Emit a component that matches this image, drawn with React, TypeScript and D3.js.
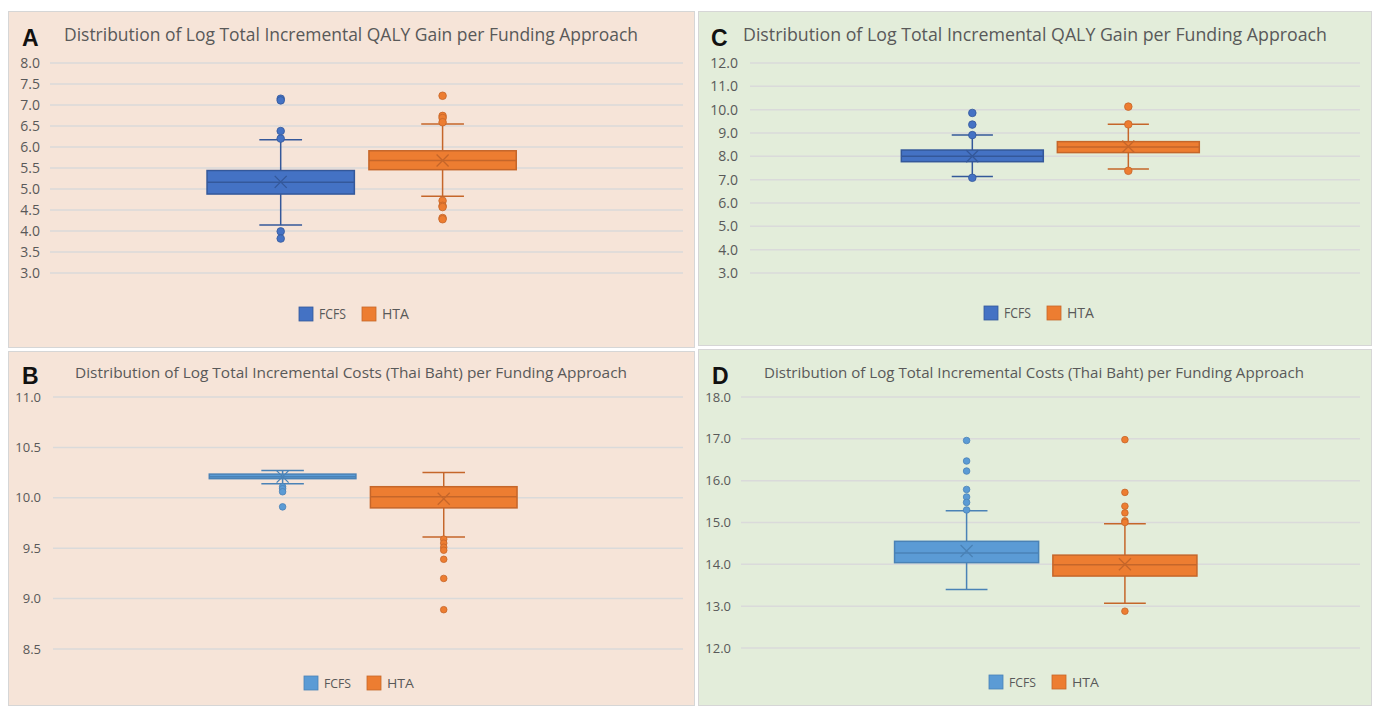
import React from "react";
import * as d3 from "d3";

const seriesNames = ["FCFS", "HTA"];

// Panel A – Log Total Incremental QALY Gain (FCFS, HTA)
const aTicks = [3.0, 3.5, 4.0, 4.5, 5.0, 5.5, 6.0, 6.5, 7.0, 7.5, 8.0];
const aLow = [4.14, 4.83];
const aQ1 = [4.88, 5.46];
const aMedian = [5.16, 5.68];
const aQ3 = [5.44, 5.91];
const aHigh = [6.17, 6.55];
const aMean = [5.17, 5.68];
const aOutliers = [
  [7.15, 7.11, 6.38, 6.2, 3.99, 3.82],
  [7.22, 6.74, 6.69, 6.59, 4.72, 4.6, 4.57, 4.31, 4.28],
];

// Panel C – Log Total Incremental QALY Gain
const cTicks = [3, 4, 5, 6, 7, 8, 9, 10, 11, 12];
const cLow = [7.14, 7.46];
const cQ1 = [7.77, 8.16];
const cMedian = [8.0, 8.4];
const cQ3 = [8.27, 8.63];
const cHigh = [8.91, 9.37];
const cMean = [8.0, 8.42];
const cOutliers = [
  [9.86, 9.36, 8.91, 7.08],
  [10.13, 9.37, 7.38],
];

// Panel B – Log Total Incremental Costs (Thai Baht)
const bTicks = [8.5, 9.0, 9.5, 10.0, 10.5, 11.0];
const bLow = [10.14, 9.61];
const bQ1 = [10.19, 9.9];
const bMedian = [10.21, 10.01];
const bQ3 = [10.235, 10.11];
const bHigh = [10.27, 10.25];
const bMean = [10.21, 9.99];
const bOutliers = [
  [10.11, 10.09, 10.06, 9.91],
  [9.59, 9.55, 9.51, 9.48, 9.39, 9.2, 8.89],
];

// Panel D – Log Total Incremental Costs (Thai Baht)
const dTicks = [12, 13, 14, 15, 16, 17, 18];
const dLow = [13.4, 13.07];
const dQ1 = [14.04, 13.72];
const dMedian = [14.27, 13.99];
const dQ3 = [14.55, 14.22];
const dHigh = [15.28, 14.97];
const dMean = [14.32, 14.0];
const dOutliers = [
  [16.96, 16.47, 16.23, 15.79, 15.61, 15.48, 15.3],
  [16.98, 15.72, 15.39, 15.23, 15.04, 15.0, 12.88],
];

const titleQaly = "Distribution of Log Total Incremental QALY Gain per Funding Approach";
const titleCost = "Distribution of Log Total Incremental Costs (Thai Baht) per Funding Approach";

const PEACH = "#F6E4D8";
const GREEN = "#E3EDDA";
const DARK_BLUE = ["#4472C4", "#34589A"];
const LIGHT_BLUE = ["#5B9BD5", "#4A82B6"];
const ORANGE = ["#ED7D31", "#C5662A"];
const FONT = "'Open Sans', 'Liberation Sans', sans-serif";

type Panel = {
  letter: string;
  x: number; y: number; w: number; h: number;
  bg: string;
  title: string; titleX: number; titleY: number; titleSize: number; titleLen: number;
  letterX: number; letterY: number;
  plotL: number; plotR: number; plotT: number; plotB: number;
  ticks: number[]; tickFmt: (v: number) => string; labelRight: number; labelSize: number;
  low: number[]; q1: number[]; med: number[]; q3: number[]; high: number[]; mean: number[]; out: number[][];
  colors: string[][];
  legX: number; legY: number; legSize: number;
  dotR: number;
};

const fmt1 = d3.format(".1f");

const panels: Panel[] = [
  {
    letter: "A", x: 8, y: 11, w: 686, h: 336, bg: PEACH,
    title: titleQaly, titleX: 64, titleY: 41, titleSize: 18, titleLen: 574,
    letterX: 22, letterY: 46,
    plotL: 50, plotR: 683, plotT: 63, plotB: 273,
    ticks: aTicks, tickFmt: fmt1, labelRight: 40, labelSize: 14,
    low: aLow, q1: aQ1, med: aMedian, q3: aQ3, high: aHigh, mean: aMean, out: aOutliers,
    colors: [DARK_BLUE, ORANGE], legX: 299, legY: 314, legSize: 14, dotR: 3.8,
  },
  {
    letter: "C", x: 698, y: 11, w: 673, h: 334, bg: GREEN,
    title: titleQaly, titleX: 743, titleY: 41, titleSize: 18, titleLen: 584,
    letterX: 711, letterY: 46,
    plotL: 750, plotR: 1360, plotT: 63, plotB: 273,
    ticks: cTicks, tickFmt: fmt1, labelRight: 738, labelSize: 14,
    low: cLow, q1: cQ1, med: cMedian, q3: cQ3, high: cHigh, mean: cMean, out: cOutliers,
    colors: [DARK_BLUE, ORANGE], legX: 984, legY: 313, legSize: 14, dotR: 3.8,
  },
  {
    letter: "B", x: 8, y: 351, w: 686, h: 354, bg: PEACH,
    title: titleCost, titleX: 75, titleY: 378, titleSize: 15, titleLen: 552,
    letterX: 22, letterY: 384,
    plotL: 53, plotR: 683, plotT: 397, plotB: 649,
    ticks: bTicks, tickFmt: fmt1, labelRight: 41, labelSize: 13,
    low: bLow, q1: bQ1, med: bMedian, q3: bQ3, high: bHigh, mean: bMean, out: bOutliers,
    colors: [LIGHT_BLUE, ORANGE], legX: 304, legY: 683, legSize: 13, dotR: 3.3,
  },
  {
    letter: "D", x: 698, y: 349, w: 673, h: 356, bg: GREEN,
    title: titleCost, titleX: 764, titleY: 378, titleSize: 15, titleLen: 540,
    letterX: 712, letterY: 384,
    plotL: 741, plotR: 1360, plotT: 397, plotB: 648,
    ticks: dTicks, tickFmt: fmt1, labelRight: 731, labelSize: 13,
    low: dLow, q1: dQ1, med: dMedian, q3: dQ3, high: dHigh, mean: dMean, out: dOutliers,
    colors: [LIGHT_BLUE, ORANGE], legX: 989, legY: 682, legSize: 13, dotR: 3.3,
  },
];

function PanelView({ p }: { p: Panel }) {
  const y = d3
    .scaleLinear()
    .domain([d3.min(p.ticks)!, d3.max(p.ticks)!])
    .range([p.plotB, p.plotT]);
  const x = d3
    .scaleBand<string>()
    .domain(seriesNames)
    .range([p.plotL, p.plotR])
    .paddingInner(0.09)
    .paddingOuter(1.0)
    .align(0.485);
  const bw = x.bandwidth();
  const capHalf = bw * 0.145;
  const m = 6;
  return (
    <g>
      <rect x={p.x + 0.5} y={p.y + 0.5} width={p.w} height={p.h} fill={p.bg} stroke="#D6D6D6" strokeWidth={1} />
      <text x={p.letterX} y={p.letterY} fontFamily="'Liberation Sans', Arial, sans-serif" fontWeight="bold" fontSize={23} fill="#111">
        {p.letter}
      </text>
      <text x={p.titleX} y={p.titleY} fontFamily={FONT} fontSize={p.titleSize} fill="#595959"
        textLength={p.titleLen} lengthAdjust="spacingAndGlyphs">
        {p.title}
      </text>
      {p.ticks.map((t) => (
        <g key={t}>
          <line x1={p.plotL} x2={p.plotR} y1={y(t)} y2={y(t)} stroke="#DADADA" strokeWidth={1.5} />
          <text x={p.labelRight} y={y(t)} dy="0.35em" textAnchor="end" fontFamily={FONT} fontSize={p.labelSize} fill="#595959">
            {p.tickFmt(t)}
          </text>
        </g>
      ))}
      {seriesNames.map((s, i) => {
        const [fill, dark] = p.colors[i];
        const x0 = x(s)!;
        const cx = x0 + bw / 2;
        return (
          <g key={s}>
            <line x1={cx} x2={cx} y1={y(p.q3[i])} y2={y(p.high[i])} stroke={dark} strokeWidth={1.5} />
            <line x1={cx} x2={cx} y1={y(p.q1[i])} y2={y(p.low[i])} stroke={dark} strokeWidth={1.5} />
            <line x1={cx - capHalf} x2={cx + capHalf} y1={y(p.high[i])} y2={y(p.high[i])} stroke={dark} strokeWidth={1.5} />
            <line x1={cx - capHalf} x2={cx + capHalf} y1={y(p.low[i])} y2={y(p.low[i])} stroke={dark} strokeWidth={1.5} />
            <rect x={x0} y={y(p.q3[i])} width={bw} height={Math.max(1, y(p.q1[i]) - y(p.q3[i]))}
              fill={fill} stroke={dark} strokeWidth={1.5} />
            <line x1={x0} x2={x0 + bw} y1={y(p.med[i])} y2={y(p.med[i])} stroke={dark} strokeWidth={1.5} />
            <path
              d={`M${cx - m},${y(p.mean[i]) - m}L${cx + m},${y(p.mean[i]) + m}M${cx - m},${y(p.mean[i]) + m}L${cx + m},${y(p.mean[i]) - m}`}
              stroke={dark} strokeWidth={1.3} fill="none" />
            {p.out[i].map((v, k) => (
              <circle key={k} cx={cx} cy={y(v)} r={p.dotR} fill={fill} stroke={dark} strokeWidth={0.8} />
            ))}
          </g>
        );
      })}
      {seriesNames.map((s, i) => {
        const lx = p.legX + i * 63;
        return (
          <g key={"leg" + s}>
            <rect x={lx} y={p.legY - 7} width={14} height={14} fill={p.colors[i][0]} stroke={p.colors[i][1]} strokeWidth={0.8} />
            <text x={lx + 20} y={p.legY} dy="0.35em" fontFamily={FONT} fontSize={p.legSize} fill="#595959"
              textLength={27} lengthAdjust="spacingAndGlyphs">
              {s}
            </text>
          </g>
        );
      })}
    </g>
  );
}

export default function App() {
  return (
    <svg width={1379} height={707} style={{ position: "absolute", left: 0, top: 0, display: "block", background: "#fff" }}>
      <rect x={0} y={0} width={1379} height={707} fill="#fff" />
      {panels.map((p) => (
        <PanelView key={p.letter} p={p} />
      ))}
    </svg>
  );
}
